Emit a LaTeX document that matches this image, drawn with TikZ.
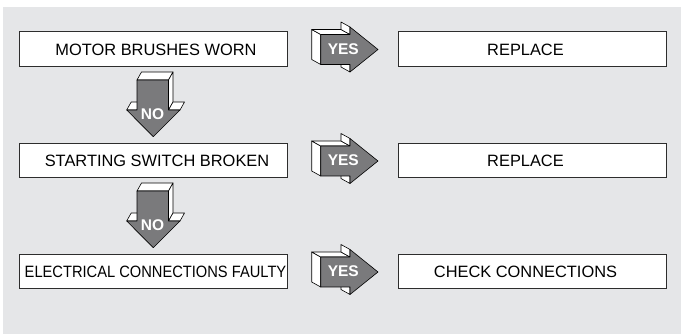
\documentclass[tikz,border=0pt]{standalone}
\usepackage{fontspec}
\setmainfont{Liberation Sans}
\usetikzlibrary{calc}
\definecolor{bg}{RGB}{229,230,232}
\definecolor{agray}{RGB}{122,122,124}
\definecolor{boxline}{RGB}{45,45,45}
\begin{document}
\begin{tikzpicture}[x=1pt,y=-1pt,
  box/.style={draw=boxline, line width=1pt, fill=white, minimum width=268pt, inner sep=0pt},
  txt/.style={font=\fontsize{16.4}{18}\selectfont, inner sep=0pt, text=black},
  lbl/.style={font=\bfseries\fontsize{15.5}{17}\selectfont, text=white, inner sep=0pt},
  face/.style={fill=white, draw=black, line width=0.6pt, line join=round},
  front/.style={fill=agray, draw=black, line width=0.6pt, line join=round},
  yesarrow/.pic={
    \path[face] (-21.8,-15) -- (-21.8,15) -- (-30.8,10) -- (-30.8,-20) -- cycle;
    \path[face] (-21.8,-15) -- (7.5,-15) -- (-1.5,-20) -- (-30.8,-20) -- cycle;
    \path[face] (7.5,-15) -- (7.5,-22.5) -- (-1.5,-27.5) -- (-1.5,-20) -- cycle;
    \path[face] (7.5,15) -- (7.5,22.5) -- (-1.5,17.5) -- (-1.5,10) -- cycle;
    \path[front] (-21.8,-15) -- (7.5,-15) -- (7.5,-22.5) -- (35.5,0) -- (7.5,22.5) -- (7.5,15) -- (-21.8,15) -- cycle;
    \node[lbl] (-t) at (0.8,-0.5) {YES};
  },
  noarrow/.pic={
    \path[face] (-16,-25.5) -- (15.5,-25.5) -- (20,-33.5) -- (-11.5,-33.5) -- cycle;
    \path[face] (15.5,-25.5) -- (15.5,4.5) -- (20,-3.5) -- (20,-33.5) -- cycle;
    \path[face] (-26.3,4.5) -- (-16,4.5) -- (-11.5,-3.5) -- (-21.8,-3.5) -- cycle;
    \path[face] (15.5,4.5) -- (27,4.5) -- (31.5,-3.5) -- (20,-3.5) -- cycle;
    \path[front] (-16,-25.5) -- (15.5,-25.5) -- (15.5,4.5) -- (27,4.5) -- (0.3,31.2) -- (-26.3,4.5) -- (-16,4.5) -- cycle;
    \node[lbl] (-t) at (-0.5,8.5) {NO};
  }
]
\useasboundingbox (0,0) rectangle (681,334);
\fill[bg] (3,7) rectangle (681,334);

% left boxes
\node[box, minimum height=35pt] (m1) at (153,49.5) {};
\node[box, minimum height=34pt] (m2) at (153,161) {};
\node[box, minimum height=34pt] (m3) at (153,272) {};
% right boxes
\node[box, minimum height=35pt] (r1) at (532,49.5) {};
\node[box, minimum height=34pt] (r2) at (532,161) {};
\node[box, minimum height=34pt] (r3) at (532,272) {};

% texts
\node[txt] (m1t) at ([xshift=3pt]m1.center) {MOTOR BRUSHES WORN};
\node[txt] (m2t) at ([xshift=4pt]m2.center) {STARTING SWITCH BROKEN};
\node[txt] (m3t) at ([xshift=2.5pt]m3.center) {\scalebox{0.895}[1]{ELECTRICAL CONNECTIONS FAULTY}};
\node[txt] (r1t) at ([xshift=-6.5pt]r1.center) {REPLACE};
\node[txt] (r2t) at ([xshift=-6.5pt]r2.center) {REPLACE};
\node[txt] (r3t) at ([xshift=-6.5pt]r3.center) {CHECK CONNECTIONS};

% YES arrows
\pic (y1) at ($(m1.east)!0.5!(r1.west)$) {yesarrow};
\pic (y2) at ($(m2.east)!0.5!(r2.west)$) {yesarrow};
\pic (y3) at ($(m3.east)!0.5!(r3.west)$) {yesarrow};

% NO arrows
\pic (n1) at ($(m1.south)!0.5!(m2.north)$) {noarrow};
\pic (n2) at ($(m2.south)!0.5!(m3.north)$) {noarrow};
\end{tikzpicture}
\end{document}
